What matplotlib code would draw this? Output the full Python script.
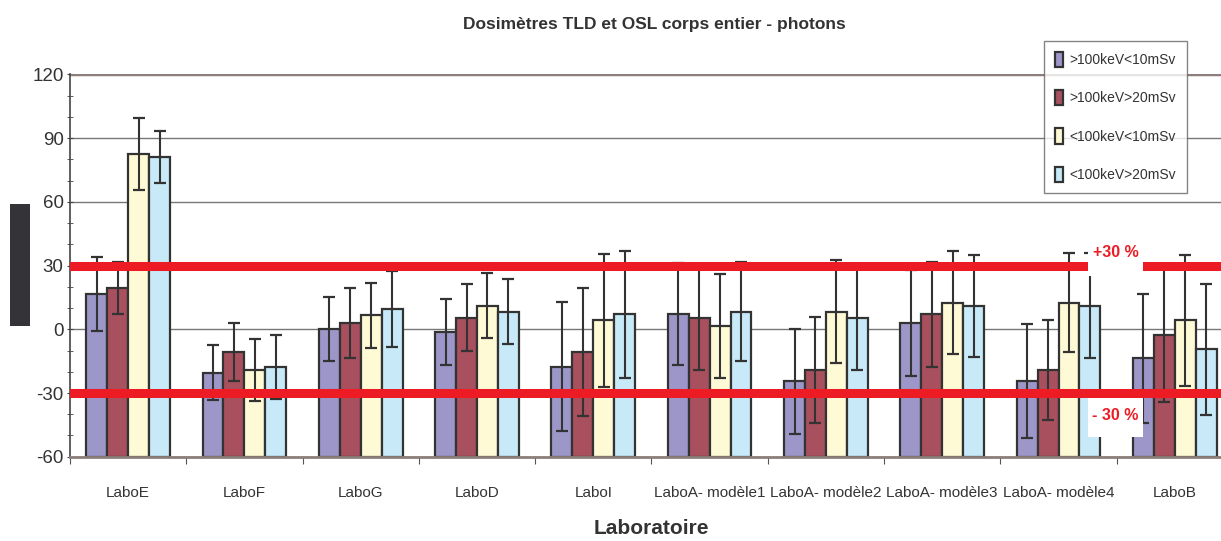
import matplotlib
matplotlib.use("Agg")
import matplotlib.pyplot as plt
from matplotlib.patches import Rectangle
import numpy as np

plt.rcParams['font.family'] = ['Liberation Sans', 'DejaVu Sans']
plt.rcParams['axes.unicode_minus'] = False

labos = ["LaboE", "LaboF", "LaboG", "LaboD", "LaboI", "LaboA- modèle1",
         "LaboA- modèle2", "LaboA- modèle3", "LaboA- modèle4", "LaboB"]
series = [">100keV<10mSv", ">100keV>20mSv", "<100keV<10mSv", "<100keV>20mSv"]

# écarts (%) et incertitudes
val_1 = [16.5, -20.4, 0.0, -1.1, -17.6, 7.1, -24.5, 3.1, -24.5, -13.7]
err_1 = [17.5, 13.0, 15.0, 15.5, 30.5, 24.0, 24.6, 25.0, 26.8, 30.5]
val_2 = [19.3, -10.7, 2.8, 5.5, -10.7, 5.5, -19.2, 7.1, -19.2, -2.7]
err_2 = [12.3, 13.7, 16.5, 15.8, 30.0, 24.8, 25.0, 24.7, 23.5, 31.5]
val_3 = [82.6, -19.2, 6.7, 11.0, 4.2, 1.4, 8.3, 12.5, 12.5, 4.2]
err_3 = [17.0, 14.5, 15.3, 15.3, 31.5, 24.5, 24.2, 24.2, 23.4, 31.0]
val_4 = [81.3, -17.6, 9.7, 8.3, 7.1, 8.3, 5.5, 11.1, 11.1, -9.4]
err_4 = [12.3, 15.0, 17.9, 15.3, 30.0, 23.3, 24.7, 24.0, 24.7, 30.8]

limite_haute = 30
limite_basse = -30

couleurs = ["#9d97c9", "#a8505e", "#fffad6", "#c7e9f8"]
bord = "#333333"

fig = plt.figure(figsize=(12.21, 5.41), dpi=100)
ax = fig.add_axes([0.0573, 0.1558, 0.9525, 0.7065])

x = np.arange(len(labos))
w = 0.18
valeurs = [val_1, val_2, val_3, val_4]
erreurs = [err_1, err_2, err_3, err_4]
for k in range(4):
    pos = x + (k - 1.5) * w
    ax.bar(pos, np.array(valeurs[k]) + 60, width=w, bottom=-60, color=couleurs[k],
           edgecolor=bord, linewidth=1.6, label=series[k], zorder=2)
    ax.errorbar(pos, valeurs[k], yerr=erreurs[k], fmt='none', ecolor=bord,
                elinewidth=1.5, capsize=4, capthick=1.6, zorder=3)

ax.axhline(limite_haute, color="#ed1c24", linewidth=6.5, zorder=4)
ax.axhline(limite_basse, color="#ed1c24", linewidth=6.5, zorder=4)

ax.set_ylim(-60, 120)
ax.set_xlim(-0.5, len(labos) - 0.5)
ax.set_yticks(np.arange(-60, 121, 30))
ax.set_yticks(np.arange(-60, 121, 10), minor=True)
ax.yaxis.grid(True, color="#777777", linewidth=1.0, zorder=0)
ax.set_axisbelow(True)
ax.set_xticks(np.arange(len(labos) + 1) - 0.5)
ax.set_xticklabels([])
ax.set_xticks(x, minor=True)
ax.set_xticklabels(labos, minor=True)
ax.tick_params(axis='x', which='minor', length=0, pad=21, labelsize=11, labelcolor="#333333")
ax.tick_params(axis='x', which='major', length=5, color="#555555", direction='out')
ax.tick_params(axis='y', which='both', length=5, color="#444444", direction='inout',
               labelsize=13.5, labelcolor="#333333", pad=2)
for s in ["top", "right"]:
    ax.spines[s].set_visible(False)
ax.spines["left"].set_color("#444444")
ax.spines["left"].set_linewidth(1.2)
ax.spines["bottom"].set_color("#8c7e7a")
ax.spines["bottom"].set_linewidth(2)
ax.axhline(120, color="#8c7e7a", linewidth=2.5, zorder=1)

ax.set_xlabel("Laboratoire", fontsize=15, fontweight='bold', color="#333333", labelpad=14)
fig.text(0.536, 0.955, "Dosimètres TLD et OSL corps entier - photons", ha='center',
         va='center', fontsize=12.5, fontweight='bold', color="#333333")

leg = ax.legend(loc='upper left', bbox_to_anchor=(1044 / 1221, 1 - 41 / 541),
                bbox_transform=fig.transFigure, frameon=True, fancybox=False,
                fontsize=10, handlelength=0.6, handleheight=1.3, labelspacing=1.65,
                borderpad=0.8, handletextpad=0.4, borderaxespad=0, edgecolor="#666666")
leg.get_frame().set_linewidth(1.0)
for t in leg.get_texts():
    t.set_color("#333333")

# cartouches blancs des limites
for (x0, y0, ww, hh, txt, ty) in [(1088, 240, 55, 36, "+30 %", 253),
                                  (1088, 398, 55, 39, "- 30 %", 416)]:
    fig.patches.append(Rectangle((x0 / 1221, 1 - (y0 + hh) / 541), ww / 1221, hh / 541,
                                 transform=fig.transFigure, facecolor="white",
                                 edgecolor="none", zorder=10))
    fig.text((x0 + ww / 2) / 1221, 1 - ty / 541, txt, ha='center', va='center',
             fontsize=11.5, fontweight='bold', color="#ed1c24", zorder=11)

# bloc sombre à gauche
fig.patches.append(Rectangle((10 / 1221, 1 - 326 / 541), 20 / 1221, 122 / 541,
                             transform=fig.transFigure, facecolor="#333338",
                             edgecolor="none", zorder=10))

fig.savefig("out.png", dpi=100)
